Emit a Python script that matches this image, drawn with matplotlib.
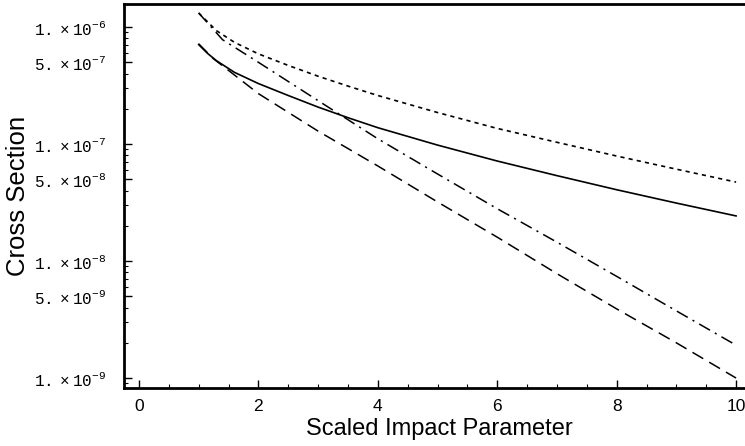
import matplotlib.pyplot as plt
from matplotlib.ticker import FixedLocator, NullFormatter

# curves (x = scaled impact parameter, y = cross section)
solid_x = [1.0, 1.15, 1.3, 1.6, 2.0, 2.5, 3.0, 3.5, 4.0, 5.0, 6.0, 7.0, 8.0, 9.0, 10.0]
solid_y = [7.08e-7, 5.95e-7, 5.15e-7, 4.1e-7, 3.29e-7, 2.6e-7, 2.07e-7, 1.68e-7,
           1.38e-7, 9.8e-8, 7.16e-8, 5.37e-8, 4.07e-8, 3.13e-8, 2.43e-8]

dotted_x = [1.0, 1.3, 1.6, 2.0, 2.5, 3.0, 3.5, 4.0, 5.0, 6.0, 7.0, 8.0, 9.0, 10.0]
dotted_y = [1.32e-6, 9.3e-7, 7.4e-7, 5.9e-7, 4.7e-7, 3.8e-7, 3.13e-7, 2.6e-7,
            1.86e-7, 1.36e-7, 1.035e-7, 7.9e-8, 6.1e-8, 4.73e-8]

dashdot_x = [1.0, 1.4, 2.0, 3.0, 4.0, 5.0, 6.0, 7.0, 8.0, 9.0, 10.0]
dashdot_y = [1.32e-6, 7.8e-7, 5.0e-7, 2.35e-7, 1.11e-7, 5.55e-8, 2.8e-8,
             1.45e-8, 7.4e-9, 3.75e-9, 1.91e-9]

longdash_x = [1.0, 1.24, 2.0, 3.0, 4.0, 5.0, 6.0, 7.0, 8.0, 9.0, 10.0]
longdash_y = [7.2e-7, 5.4e-7, 2.7e-7, 1.29e-7, 6.5e-8, 3.2e-8, 1.6e-8,
              7.8e-9, 3.9e-9, 2.0e-9, 1.0e-9]

ytick_vals = [1e-6, 5e-7, 1e-7, 5e-8, 1e-8, 5e-9, 1e-9]
ytick_text = [r'$\mathrm{1.\times10^{-6}}$', r'$\mathrm{5.\times10^{-7}}$',
              r'$\mathrm{1.\times10^{-7}}$', r'$\mathrm{5.\times10^{-8}}$',
              r'$\mathrm{1.\times10^{-8}}$', r'$\mathrm{5.\times10^{-9}}$',
              r'$\mathrm{1.\times10^{-9}}$']
xtick_vals = [0, 2, 4, 6, 8, 10]

plt.rcParams['lines.scale_dashes'] = False
plt.rcParams['mathtext.fontset'] = 'custom'
plt.rcParams['mathtext.rm'] = 'Liberation Mono'
plt.rcParams['font.family'] = ['Liberation Sans', 'DejaVu Sans']

fig = plt.figure(figsize=(7.45, 4.46), dpi=100)
ax = fig.add_axes([124 / 745, 58 / 446, 630 / 745, 384 / 446])

ax.plot(solid_x, solid_y, color='black', lw=1.2)
ax.plot(dotted_x, dotted_y, color='black', lw=1.2, linestyle=(0, (3, 3)))
ax.plot(dashdot_x, dashdot_y, color='black', lw=1.1, linestyle=(0, (9, 4, 1.5, 4)))
ax.plot(longdash_x, longdash_y, color='black', lw=1.1, linestyle=(0, (9, 5)))

ax.set_yscale('log')
ax.set_xlim(-0.25, 10.3)
ax.set_ylim(10 ** -9.085, 10 ** -5.803)

ax.yaxis.set_major_locator(FixedLocator(ytick_vals))
ax.set_yticklabels(ytick_text, fontsize=11.5)
minor_y = [m * 10.0 ** e for e in range(-10, -5) for m in range(2, 10) if m != 5]
ax.yaxis.set_minor_locator(FixedLocator(minor_y))
ax.yaxis.set_minor_formatter(NullFormatter())

ax.set_xticks(xtick_vals)
ax.set_xticklabels([str(v) for v in xtick_vals], fontsize=12.5)
ax.set_xticks([v / 2 for v in range(0, 21) if v % 4 != 0], minor=True)

ax.tick_params(which='major', direction='in', length=6, width=1, pad=8)
ax.tick_params(which='minor', direction='in', length=3, width=0.8)
ax.tick_params(axis='y', which='major', pad=13)

for side in ['left', 'bottom', 'top', 'right']:
    ax.spines[side].set_linewidth(2)

ax.set_xlabel('Scaled Impact Parameter', fontsize=17, labelpad=3)
ax.set_ylabel('Cross Section', fontsize=18.5, labelpad=3)

fig.savefig('out.png', dpi=100)
